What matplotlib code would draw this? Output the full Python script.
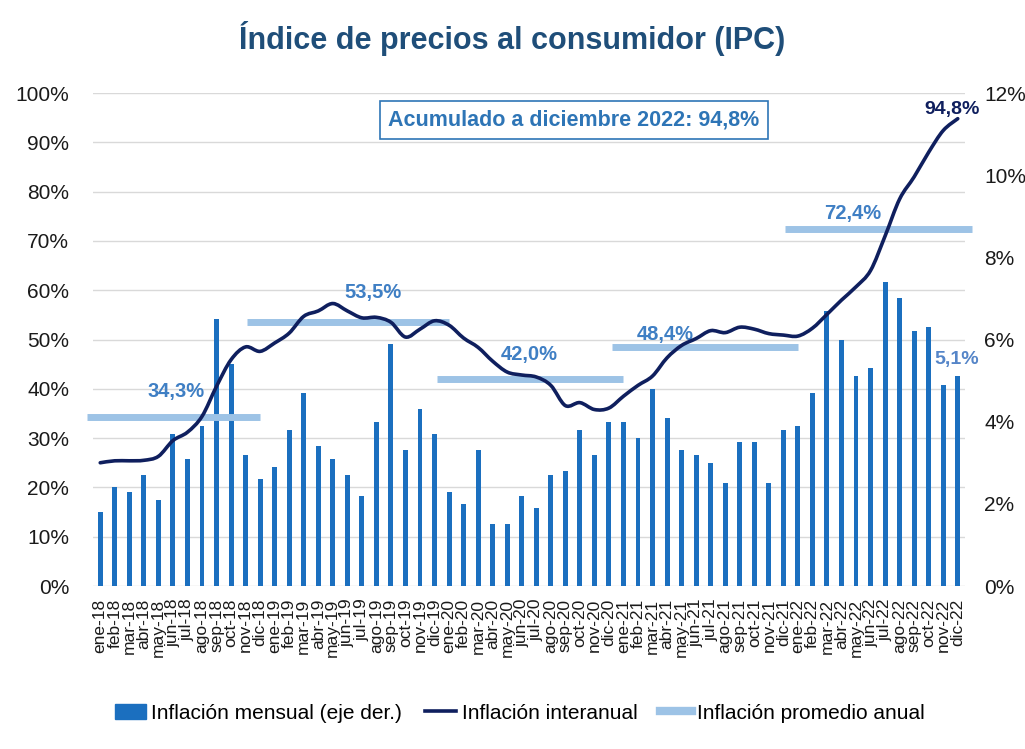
import matplotlib
matplotlib.use('agg')
import matplotlib.pyplot as plt
from matplotlib.patches import Patch, PathPatch
from matplotlib.lines import Line2D
from matplotlib.path import Path
import numpy as np

plt.rcParams['font.family'] = ['Liberation Sans', 'DejaVu Sans']

# monthly labels
months = ['ene', 'feb', 'mar', 'abr', 'may', 'jun', 'jul', 'ago', 'sep', 'oct', 'nov', 'dic']
years = ['18', '19', '20', '21', '22']
labels = [m + '-' + y for y in years for m in months]

# monthly inflation (% , right axis)
mensual = [1.8, 2.4, 2.3, 2.7, 2.1, 3.7, 3.1, 3.9, 6.5, 5.4, 3.2, 2.6,
           2.9, 3.8, 4.7, 3.4, 3.1, 2.7, 2.2, 4.0, 5.9, 3.3, 4.3, 3.7,
           2.3, 2.0, 3.3, 1.5, 1.5, 2.2, 1.9, 2.7, 2.8, 3.8, 3.2, 4.0,
           4.0, 3.6, 4.8, 4.1, 3.3, 3.2, 3.0, 2.5, 3.5, 3.5, 2.5, 3.8,
           3.9, 4.7, 6.7, 6.0, 5.1, 5.3, 7.4, 7.0, 6.2, 6.3, 4.9, 5.1]

# year-on-year inflation (% , left axis)
interanual = [25.0, 25.4, 25.4, 25.5, 26.3, 29.5, 31.2, 34.4, 40.5, 45.9, 48.5, 47.6,
              49.3, 51.3, 54.7, 55.8, 57.3, 55.8, 54.4, 54.5, 53.5, 50.5, 52.1, 53.8,
              52.9, 50.3, 48.4, 45.6, 43.4, 42.8, 42.4, 40.7, 36.6, 37.2, 35.8, 36.1,
              38.5, 40.7, 42.6, 46.3, 48.8, 50.2, 51.8, 51.4, 52.5, 52.1, 51.2, 50.9,
              50.7, 52.3, 55.1, 58.0, 60.7, 64.0, 71.0, 78.5, 83.0, 88.0, 92.4, 94.8]

# annual average inflation (% , left axis)
promedio = [34.3, 53.5, 42.0, 48.4, 72.4]
promedio_txt = ['34,3%', '53,5%', '42,0%', '48,4%', '72,4%']

bar_col = '#1b6fbf'
line_col = '#0f1f5e'
avg_col = '#9dc3e6'
txt_col = '#3f7fc4'
title_col = '#1f4e79'


def smooth_path(xs, ys):
    # excel-like smoothed line: catmull-rom segments as cubic beziers
    p = np.column_stack([xs, ys]).astype(float)
    n = len(p)
    verts = [p[0]]
    codes = [Path.MOVETO]
    for i in range(n - 1):
        p0 = p[i - 1] if i > 0 else p[i]
        p3 = p[i + 2] if i + 2 < n else p[i + 1]
        c1 = p[i] + (p[i + 1] - p0) / 6.0
        c2 = p[i + 1] - (p3 - p[i]) / 6.0
        verts += [c1, c2, p[i + 1]]
        codes += [Path.CURVE4] * 3
    return Path(verts, codes)


fig = plt.figure(figsize=(10.25, 7.49), dpi=100)
ax = fig.add_axes([0.0907, 0.2176, 0.8508, 0.6582])
ax2 = ax.twinx()

x = np.arange(len(labels))

# grid + bars on right axis
for v in range(0, 101, 10):
    ax2.axhline(v * 12 / 100.0, color='#d9d9d9', lw=1, zorder=0)
ax2.bar(x, mensual, width=0.34, color=bar_col, zorder=2)
ax2.set_ylim(0, 12)
ax2.set_yticks(np.arange(0, 13, 2))
ax2.set_yticklabels(['%d%%' % v for v in range(0, 13, 2)])

# left axis on top for the lines
ax.set_zorder(ax2.get_zorder() + 1)
ax.patch.set_visible(False)

ax.add_patch(PathPatch(smooth_path(x, interanual), fc='none', ec=line_col, lw=2.6,
                       joinstyle='round', capstyle='round', zorder=4))

# average bars: start/end positions of each horizontal segment
seg_start = [-0.9, 10.1, 23.2, 35.2, 47.1]
seg_end = [11.0, 24.0, 36.0, 48.0, 60.0]
for v, x0, x1 in zip(promedio, seg_start, seg_end):
    ax.plot([x0, x1], [v, v], color=avg_col, lw=5, solid_capstyle='butt',
            clip_on=False, zorder=3)

lab_pos = [(5.2, 39.5), (18.8, 59.6), (29.5, 47.0), (38.9, 51.0), (51.8, 75.6)]
for (px, py), t in zip(lab_pos, promedio_txt):
    ax.text(px, py, t, color=txt_col, fontsize=14.5, fontweight='bold', ha='center', va='center')

ax.text(58.6, 96.6, '94,8%', color=line_col, fontsize=14, fontweight='bold', ha='center', va='center')
ax.text(58.9, 46.0, '5,1%', color='#5585c8', fontsize=14, fontweight='bold', ha='center', va='center')

ax.set_ylim(0, 100)
ax.set_yticks(np.arange(0, 101, 10))
ax.set_yticklabels(['%d%%' % v for v in range(0, 101, 10)])
ax.set_xlim(-0.5, 59.5)
ax.set_xticks(x)
ax.set_xticklabels(labels, rotation=90)

for a in (ax, ax2):
    for s in a.spines.values():
        s.set_visible(False)
    a.tick_params(length=0, labelsize=15, colors='#1a1a1a')
ax.tick_params(axis='x', labelsize=12.5, pad=9)
ax.tick_params(axis='y', pad=17)
ax2.tick_params(axis='y', pad=14)

fig.text(0.5, 0.949, 'Índice de precios al consumidor (IPC)', color=title_col,
         fontsize=22, fontweight='bold', ha='center', va='center')

ax.text(32.6, 94.5, 'Acumulado a diciembre 2022: 94,8%', color='#2e75b6', fontsize=15.5,
        fontweight='bold', ha='center', va='center',
        bbox=dict(boxstyle='square,pad=0.4', fc='white', ec='#2e75b6', lw=1.2))

handles = [Patch(color=bar_col, label='Inflación mensual (eje der.)'),
           Line2D([0], [0], color=line_col, lw=2.6, label='Inflación interanual'),
           Line2D([0], [0], color=avg_col, lw=6, label='Inflación promedio anual')]
fig.legend(handles=handles, loc='center', bbox_to_anchor=(0.507, 0.048), ncol=3, frameon=False,
           fontsize=15, handlelength=1.5, handletextpad=0.25, columnspacing=1.1)

plt.savefig('out.png', dpi=100)
